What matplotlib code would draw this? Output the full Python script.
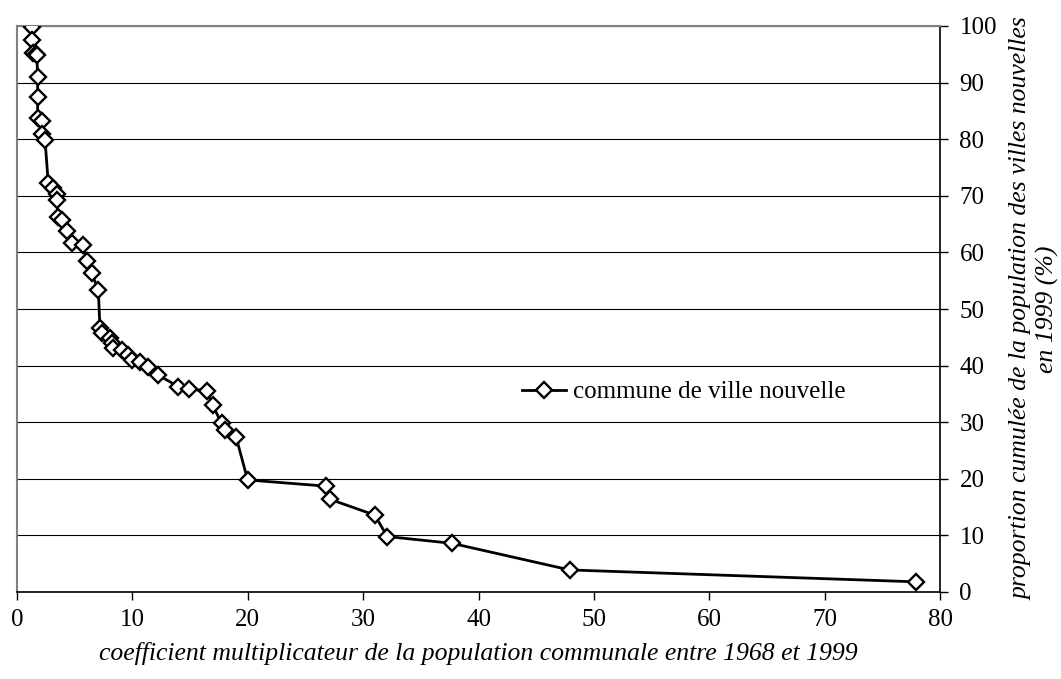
import matplotlib
matplotlib.use("Agg")
import matplotlib.pyplot as plt

coef = [1.27, 1.33, 1.42, 1.62, 1.72, 1.79, 1.79, 1.79, 2.14, 2.14, 2.43,
        2.71, 3.15, 3.50, 3.45, 3.58, 3.87, 4.30, 4.74, 5.75, 6.04, 6.47,
        7.05, 7.19, 7.34, 8.06, 8.20, 8.35, 9.07, 9.65, 9.94, 10.66, 11.38,
        12.25, 13.98, 14.93, 16.44, 16.95, 17.74, 18.00, 19.00, 19.99, 26.8,
        27.1, 31.0, 32.1, 37.7, 47.9, 77.9]
cumul = [99.9, 97.5, 95.2, 95.0, 94.8, 91.0, 87.5, 83.7, 83.2, 81.0, 79.9,
         72.2, 71.3, 70.3, 69.2, 66.3, 65.7, 63.7, 61.6, 61.3, 58.4, 56.3,
         53.4, 46.6, 45.7, 44.8, 44.0, 43.1, 42.8, 41.9, 41.0, 40.7, 39.8,
         38.3, 36.3, 35.8, 35.6, 33.0, 29.8, 28.7, 27.3, 19.8, 18.7,
         16.4, 13.6, 9.8, 8.6, 3.9, 1.8]

xticks = [0, 10, 20, 30, 40, 50, 60, 70, 80]
yticks = [0, 10, 20, 30, 40, 50, 60, 70, 80, 90, 100]

plt.rcParams['font.family'] = ['Liberation Serif', 'DejaVu Serif']
plt.rcParams['font.size'] = 18

fig = plt.figure(figsize=(10.61, 6.79), dpi=100)
ax = fig.add_axes([17/1061, 87/679, 923/1061, 566/679])

ax.plot(coef, cumul, color='black', lw=2, marker='D', ms=8.5,
        mfc='white', mec='black', mew=1.7, label='commune de ville nouvelle',
        zorder=3)

ax.set_xlim(0, 80)
ax.set_ylim(0, 100)
ax.set_xticks(xticks)
ax.set_yticks(yticks)
ax.yaxis.tick_right()
ax.yaxis.set_label_position('right')
ax.tick_params(axis='both', direction='out', length=6, width=1, color='black', labelsize=18)
ax.tick_params(axis='y', pad=8)
ax.tick_params(axis='x', pad=6)
ax.grid(axis='y', color='black', lw=0.8)
ax.set_axisbelow(True)
for s in ['left', 'top']:
    ax.spines[s].set_color('#808080')
    ax.spines[s].set_linewidth(1.5)
for s in ['right', 'bottom']:
    ax.spines[s].set_color('black')
    ax.spines[s].set_linewidth(1.2)

ax.set_xlabel('coefficient multiplicateur de la population communale entre 1968 et 1999',
              style='italic', fontsize=18.5, labelpad=8)
ax.set_ylabel('proportion cumulée de la population des villes nouvelles\nen 1999 (%)',
              style='italic', fontsize=18.5, rotation=90, labelpad=10, linespacing=1.15)

ax.legend(loc='center left', bbox_to_anchor=(0.547, 0.353), frameon=False,
          fontsize=18, handlelength=1.75, handletextpad=0.3, borderpad=0,
          borderaxespad=0)

fig.savefig('out.png', dpi=100)
